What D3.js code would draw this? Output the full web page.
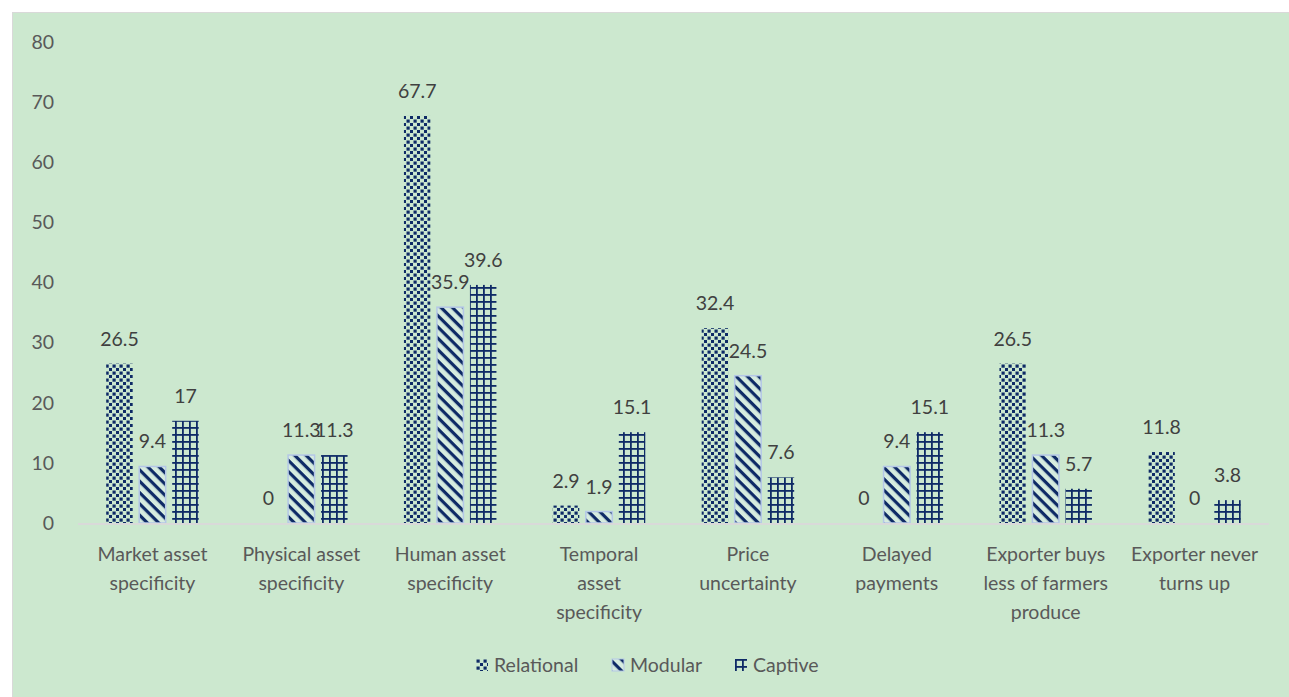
<!DOCTYPE html>
<html><head><meta charset="utf-8">
<script src="https://cdn.jsdelivr.net/npm/d3@7"></script>
<style>
html,body{margin:0;padding:0;background:#fff;}
svg{display:block;font-family:Lato,"Open Sans",sans-serif;}
</style></head>
<body>
<svg id="chart" width="1289" height="697"></svg>
<script>
const categories = [
  ["Market asset","specificity"],
  ["Physical asset","specificity"],
  ["Human asset","specificity"],
  ["Temporal","asset","specificity"],
  ["Price","uncertainty"],
  ["Delayed","payments"],
  ["Exporter buys","less of farmers","produce"],
  ["Exporter never","turns up"]
];
const seriesNames = ["Relational","Modular","Captive"];
const relational = [26.5, 0, 67.7, 2.9, 32.4, 0, 26.5, 11.8];
const modular    = [9.4, 11.3, 35.9, 1.9, 24.5, 9.4, 11.3, 0];
const captive    = [17, 11.3, 39.6, 15.1, 7.6, 15.1, 5.7, 3.8];
const yTicks = [0,10,20,30,40,50,60,70,80];

const series = [relational, modular, captive];
const svg = d3.select("#chart");
const navy = "#0e2a66";
const textCol = "#595959";
const fs = 19.5;

// background
svg.append("rect").attr("x",12.5).attr("y",12.5).attr("width",1290).attr("height",700)
  .attr("fill","#cce8cf").attr("stroke","#d9d9d9").attr("stroke-width",1);

const defs = svg.append("defs");
// Relational: staggered dots
const p1 = defs.append("pattern").attr("id","pRel").attr("patternUnits","userSpaceOnUse")
  .attr("width",7).attr("height",7);
p1.append("rect").attr("x",0.5).attr("y",0.5).attr("width",3.2).attr("height",3.2).attr("fill",navy);
p1.append("rect").attr("x",4).attr("y",4).attr("width",3.2).attr("height",3.2).attr("fill",navy);
// Modular: diagonal stripes
const p2 = defs.append("pattern").attr("id","pMod").attr("patternUnits","userSpaceOnUse")
  .attr("width",8).attr("height",8).attr("patternTransform","rotate(45)");
p2.append("rect").attr("width",8).attr("height",8).attr("fill","#d6ecdf");
p2.append("rect").attr("x",0).attr("y",0).attr("width",8).attr("height",3.2).attr("fill",navy);
// Captive: grid
const p3 = defs.append("pattern").attr("id","pCap").attr("patternUnits","userSpaceOnUse")
  .attr("width",7).attr("height",7);
p3.append("rect").attr("x",0).attr("y",0).attr("width",7).attr("height",1.8).attr("fill",navy);
p3.append("rect").attr("x",0).attr("y",0).attr("width",1.8).attr("height",7).attr("fill",navy);
const fills = ["url(#pRel)","url(#pMod)","url(#pCap)"];
const strokes = ["none","#b4c7e7","none"];

const x0 = d3.scaleBand().domain(d3.range(categories.length)).range([78,1269]).paddingInner(0).paddingOuter(0);
const barW = 26.5, barStep = 33;
const y = d3.scaleLinear().domain([0,80]).range([523,42]);

// y axis labels
svg.append("g").selectAll("text").data(yTicks).join("text")
  .attr("x",54).attr("y",d=>y(d)).attr("dy","0.35em").attr("text-anchor","end")
  .attr("font-size",fs).attr("fill",textCol).text(d=>d);

// bars
series.forEach((vals,si)=>{
  const g = svg.append("g");
  g.selectAll("rect").data(vals).join("rect")
    .attr("x",(d,i)=>x0(i)+x0.bandwidth()/2+(si-1)*barStep-barW/2)
    .attr("y",d=>y(d)).attr("width",barW).attr("height",d=>y(0)-y(d))
    .attr("fill",fills[si]).attr("stroke",strokes[si]).attr("stroke-width",strokes[si]==="none"?0:1.5);
});
// axis line
svg.append("line").attr("x1",78).attr("x2",1269).attr("y1",y(0)+1).attr("y2",y(0)+1)
  .attr("stroke","#d9d9d9").attr("stroke-width",2);
// value labels
series.forEach((vals,si)=>{
  svg.append("g").selectAll("text").data(vals).join("text")
    .attr("x",(d,i)=>x0(i)+x0.bandwidth()/2+(si-1)*barStep)
    .attr("y",d=>y(d)-18).attr("text-anchor","middle")
    .attr("font-size",fs).attr("fill","#404040").text(d=>d);
});
// category labels
const cg = svg.append("g").selectAll("text").data(categories).join("text")
  .attr("x",(d,i)=>x0(i)+x0.bandwidth()/2).attr("text-anchor","middle")
  .attr("font-size",fs).attr("fill",textCol);
cg.selectAll("tspan").data(d=>d).join("tspan")
  .attr("x",function(){return this.parentNode.getAttribute("x");})
  .attr("y",(d,i)=>554+i*29).attr("dy","0.35em").text(d=>d);

// legend
const legX = [476, 612, 735];
const lg = svg.append("g").selectAll("g").data(seriesNames).join("g")
  .attr("transform",(d,i)=>`translate(${legX[i]},659)`);
lg.append("rect").attr("width",12).attr("height",12).attr("fill",(d,i)=>fills[i])
  .attr("stroke",(d,i)=>strokes[i]).attr("stroke-width",(d,i)=>strokes[i]==="none"?0:1);
lg.append("text").attr("x",18).attr("y",6).attr("dy","0.35em").attr("font-size",fs)
  .attr("fill",textCol).text(d=>d);
</script>
</body></html>
